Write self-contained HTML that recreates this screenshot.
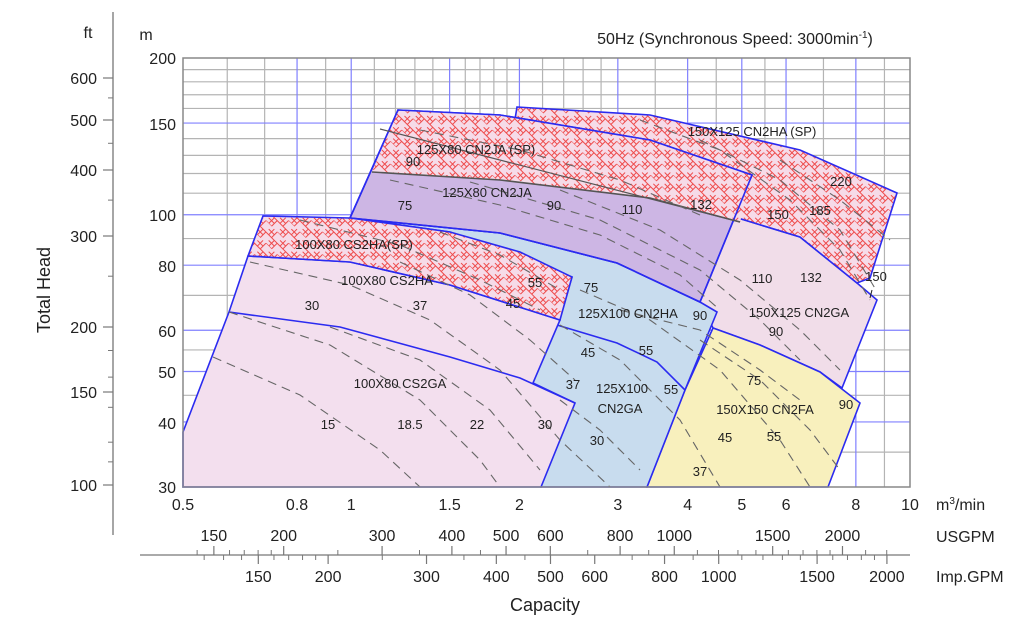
<!DOCTYPE html>
<html><head><meta charset="utf-8"><style>
html,body{margin:0;padding:0;background:#fff;}
svg{display:block;font-family:"Liberation Sans",Arial,sans-serif;}
</style></head><body>
<svg id="s" width="1028" height="619" viewBox="0 0 1028 619" xmlns="http://www.w3.org/2000/svg">
<defs>
<pattern id="h" width="16" height="16" patternUnits="userSpaceOnUse" patternTransform="rotate(45)">
<rect width="16" height="16" fill="#f6dbe8"/>
<path d="M0 4H8M0 8H8M8 0V8M8 12H16M8 16H16M0 8V16M16 8V16M8 8H16M12 8V16M4 0V8" stroke="#ee4a4a" stroke-width="1" fill="none"/>
</pattern>
</defs>
<g id="g"></g>
</svg>
<script>
var s=document.getElementById('g'),o='';
function X(v){return 183+558.8*Math.log10(v/0.5);}
function Y(v){return 487-520.7*Math.log10(v/30);}
function L(x1,y1,x2,y2,c,w,d){o+='<line x1="'+x1+'" y1="'+y1+'" x2="'+x2+'" y2="'+y2+'" stroke="'+c+'" stroke-width="'+(w||1)+'"'+(d?' stroke-dasharray="'+d+'"':'')+'/>';}
function T(x,y,t,sz,a,extra){o+='<text x="'+x+'" y="'+y+'" font-size="'+(sz||14)+'" text-anchor="'+(a||'middle')+'" fill="#222" '+(extra||'')+'>'+t+'</text>';}
function P(pts,fill,stroke,close){o+='<path d="M'+pts.map(p=>p[0]+' '+p[1]).join('L')+(close===false?'':'Z')+'" fill="'+fill+'" stroke="'+(stroke||'none')+'" stroke-width="1.6"/>';}
// grid
var gx=[0.6,0.7,0.9,1.1,1.2,1.3,1.4,1.6,1.7,1.8,1.9,2.2,2.4,2.6,2.8,3.5,4.5,5.5,7,9];
var bx=[0.8,1,1.5,2,3,4,5,6,8];
var gy=[35,45,55,70,90,110,120,130,140,160,170,180,190];
var by=[40,50,60,80,100,150];
gx.forEach(v=>L(X(v),58,X(v),487,'#b4b4b4',1.2));
gy.forEach(v=>L(183,Y(v),910,Y(v),'#b4b4b4',1.2));
bx.forEach(v=>L(X(v),58,X(v),487,'#8080ff',1.2));
by.forEach(v=>L(183,Y(v),910,Y(v),'#8080ff',1.2));
s.innerHTML=o;o='';
// regions
var B='#2b2bf0';
// 150x125 CN2GA pink
P([[700,205],[738,218],[800,237],[857,283],[877,300],[842,388],[820,372],[760,345],[713,328],[700,302]],'#f1dde9',B);
// 150x125 SP band
P([[517,107],[650,115],[800,150],[897,193],[870,278],[857,283],[800,237],[738,218],[650,195],[510,150]],'url(#h)',B);
// yellow
P([[713,328],[760,345],[820,372],[860,403],[828,487],[647,487],[685,390]],'#f8f0bd',B);
// blue
P([[350,218],[500,233],[617,263],[700,302],[717,312],[685,390],[647,487],[541,487],[533,382],[557,325],[572,277],[450,232]],'#c8dcee',B);
P([[557,325],[617,343],[657,362],[685,390]],'none',B,false);
// purple
P([[398,110],[500,115],[650,140],[752,175],[700,302],[617,263],[500,233],[350,218]],'#cdb6e4',B);
P([[398,110],[500,115],[650,140],[752,175],[740,222],[650,198],[500,180],[372,172]],'url(#h)','none');
P([[398,110],[500,115],[650,140],[752,175],[700,302],[617,263],[500,233],[350,218]],'none',B);
L(380,129,740,222,'#555',1.2);
P([[372,172],[500,180],[650,198],[740,222]],'none','#555',false);
// pink CS2HA + CS2GA
P([[183,432],[229,312],[248,256],[350,262],[450,285],[560,320],[533,383],[575,403],[541,487],[183,487]],'#f3dfee',B);
P([[229,312],[340,327],[450,357],[520,378],[575,403]],'none',B,false);
P([[248,256],[263,216],[350,218],[450,232],[520,252],[572,277],[560,320],[450,285],[350,262]],'url(#h)',B);
s.innerHTML+=o;o='';
// dashed lines
var D=[
[[213,357],[300,395],[380,450],[420,487]],
[[229,312],[330,345],[420,400],[480,460],[500,487]],
[[330,327],[420,360],[490,410],[540,470]],
[[250,262],[350,285],[430,320],[500,370],[560,440],[610,487]],
[[400,262],[470,295],[530,340],[575,380]],
[[300,220],[400,245],[480,280],[540,310]],
[[440,232],[500,255],[560,290]],
[[560,325],[620,360],[680,420],[720,487]],
[[580,290],[650,320],[720,370],[780,440],[810,487]],
[[700,340],[760,380],[810,430],[840,470]],
[[620,310],[700,330],[760,370],[800,400]],
[[420,130],[520,150],[620,180],[700,215]],
[[390,180],[500,205],[600,235],[680,275],[720,310]],
[[470,182],[600,220],[700,270],[760,320],[800,360]],
[[560,190],[660,230],[740,280],[800,330],[840,370]],
[[640,120],[720,150],[790,200],[840,250],[870,300]],
[[700,140],[780,180],[840,230],[876,290]],
[[780,160],[840,200],[890,240]],
[[560,400],[600,430],[640,470]]
];
D.forEach(d=>P(d,'none','#666',false));
s.innerHTML+=o.replace(/stroke-width="1.6"/g,'stroke-width="1.1" stroke-dasharray="9 6"');o='';
// frame
o+='<rect x="183" y="58" width="727" height="429" fill="none" stroke="#888" stroke-width="1.5"/>';
// labels inside
var lab=[[354,249,'100X80 CS2HA(SP)'],[387,285,'100X80 CS2HA'],[312,310,'30'],[420,310,'37'],[513,308,'45'],[535,287,'55'],[400,388,'100X80 CS2GA'],[328,429,'15'],[410,429,'18.5'],[477,429,'22'],[545,429,'30'],
[476,154,'125X80 CN2JA (SP)'],[413,166,'90'],[487,197,'125X80 CN2JA'],[405,210,'75'],[554,210,'90'],[632,214,'110'],[701,209,'132'],[752,136,'150X125 CN2HA (SP)'],[841,186,'220'],[778,219,'150'],[820,215,'185'],
[762,283,'110'],[811,282,'132'],[876,281,'150'],[591,292,'75'],[628,318,'125X100 CN2HA'],[700,320,'90'],[799,317,'150X125 CN2GA'],[776,336,'90'],[588,357,'45'],[646,355,'55'],[573,389,'37'],[622,393,'125X100'],[620,413,'CN2GA'],[671,394,'55'],[754,385,'75'],[765,414,'150X150 CN2FA'],[846,409,'90'],[597,445,'30'],[725,442,'45'],[774,441,'55'],[700,476,'37']];
lab.forEach(l=>T(l[0],l[1],l[2],13));
L(872,290,870,298,'#222',1);
// m axis
[[200,58],[150,124],[100,215],[80,266],[60,331],[50,372],[40,423],[30,487]].forEach(a=>T(176,a[1]+6,a[0],16,'end'));
T(146,40,'m',16);T(88,38,'ft',16);
L(113,12,113,535,'#777',1.3);
[[600,78],[500,120],[400,170],[300,236],[200,327],[150,392],[100,485]].forEach(a=>{T(97,a[1]+6,a[0],16,'end');L(103,a[1],113,a[1],'#777',1.2);});
[550,450,350,250,180,160,140,120,110].forEach(v=>{var y=487-520.7*Math.log10(v*0.3048/30);L(108,y,113,y,'#777',1);});
T(50,290,'Total Head',18,'middle','transform="rotate(-90 50 290)"');
// x labels
[[0.5,'0.5'],[0.8,'0.8'],[1,'1'],[1.5,'1.5'],[2,'2'],[3,'3'],[4,'4'],[5,'5'],[6,'6'],[8,'8'],[10,'10']].forEach(a=>T(X(a[0]),510,a[1],16));
T(936,510,'m<tspan font-size="10" dy="-6">3</tspan><tspan dy="6">/min</tspan>',16,'start');
// gallon axis
L(140,555,910,555,'#777',1.3);
function XU(g){return X(g/264.17);} function XI(g){return X(g/219.97);}
[150,200,300,400,500,600,800,1000,1500,2000].forEach(g=>{T(XU(g),541,g,16);L(XU(g),546,XU(g),555,'#777',1.2);});
[140,160,170,180,190,250,350,450,700,900,1100,1200,1300,1400,1600,1700,1800,1900,2200,2400].forEach(g=>{var x=XU(g);if(x>140&&x<910)L(x,550,x,555,'#777',1);});
[150,200,300,400,500,600,800,1000,1500,2000].forEach(g=>{T(XI(g),582,g,16);L(XI(g),555,XI(g),564,'#777',1.2);});
[120,130,140,160,170,180,190,250,350,450,700,900,1100,1200,1300,1400,1600,1700,1800,1900].forEach(g=>{var x=XI(g);if(x>140&&x<910)L(x,555,x,560,'#777',1);});
T(936,542,'USGPM',16,'start');T(936,582,'Imp.GPM',16,'start');
T(545,611,'Capacity',18);
T(735,44,'50Hz (Synchronous Speed: 3000min<tspan font-size="10" dy="-6">-1</tspan><tspan dy="6">)</tspan>',16);
s.innerHTML+=o;
</script>
</body></html>
